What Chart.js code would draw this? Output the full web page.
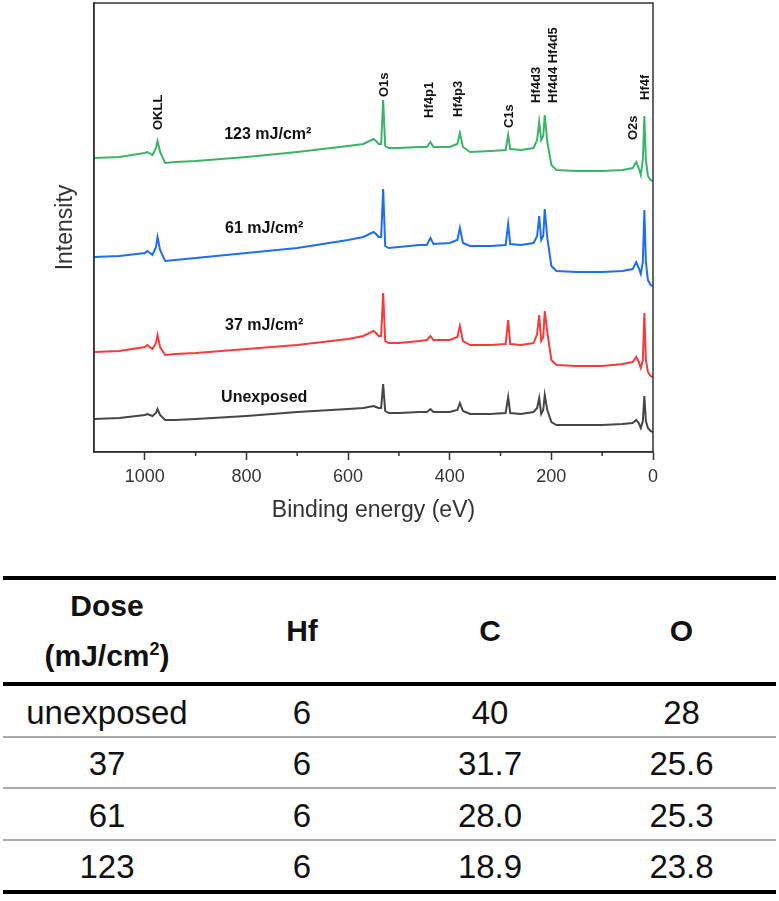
<!DOCTYPE html>
<html>
<head>
<meta charset="utf-8">
<script src="https://cdn.jsdelivr.net/npm/chart.js@4.4.1/dist/chart.umd.min.js"></script>
<style>
    body { margin: 0; background: #fff; width: 779px; height: 901px; position: relative; overflow: hidden; }
    #chartBox { position: absolute; left: 0; top: 0; width: 779px; height: 540px; }
    table { position: absolute; left: 3px; top: 576px; width: 773px; border-collapse: collapse; font-family: "Liberation Sans", Arial, sans-serif; color: #111; table-layout: fixed; }
    th { font-weight: bold; font-size: 30px; height: 102px; line-height: 50px; padding: 0; border-top: 4px solid #000; border-bottom: 4px solid #000; text-align: center; }
    td { font-size: 33px; height: 45.5px; padding: 4px 0 0 0; text-align: center; border-bottom: 2px solid #aaa; }
    tr:last-child td { border-bottom: 4px solid #000; }
    sup { font-size: 60%; line-height: 0; }
</style>
</head>
<body>
<div id="chartBox"><canvas id="chart1" width="779" height="540"></canvas></div>
<table id="table1">
    <colgroup><col style="width:208px"><col style="width:182px"><col style="width:194px"><col style="width:189px"></colgroup>
    <thead><tr><th>Dose<br>(mJ/cm<sup>2</sup>)</th><th>Hf</th><th>C</th><th>O</th></tr></thead>
    <tbody></tbody>
</table>
<script>
// binding energy grid (eV), shared by all spectra
const energies = [1100, 1050, 1000, 995, 985, 978, 975, 970, 960, 940, 900, 800, 700, 600, 570, 550, 545, 540, 535, 531, 527, 520, 500, 460, 445, 438, 432, 400, 385, 380, 374, 360, 320, 290, 285, 281, 260, 235, 228, 224, 220, 216, 213, 208, 200, 190, 150, 100, 60, 40, 33, 28, 24, 20, 17, 14, 10, 5, 0];

// intensity (a.u., stacked offsets as in the figure)
const dose123 = [294, 295, 299, 300, 297, 304, 311, 300, 289, 290, 291, 295, 300, 306, 308, 313, 311, 308, 308, 352, 306, 304, 304, 305, 305, 310, 305, 305, 308, 319, 305, 300, 301, 302, 317, 303, 302, 304, 312, 330, 312, 316, 337, 310, 287, 282, 281, 281, 282, 284, 290, 284, 277, 292, 336, 292, 276, 272, 271];
const dose61 = [195, 196, 199, 201, 197, 205, 215, 202, 191, 192, 194, 199, 204, 212, 215, 220, 218, 215, 215, 263, 206, 204, 205, 207, 207, 214, 208, 209, 212, 224, 209, 206, 206, 207, 228, 208, 207, 209, 216, 236, 212, 216, 243, 214, 186, 181, 180, 180, 181, 183, 190, 184, 178, 190, 242, 190, 172, 167, 166];
const dose37 = [100, 101, 105, 107, 103, 109, 117, 105, 97, 98, 99, 103, 107, 113, 116, 121, 119, 116, 116, 159, 111, 109, 109, 111, 112, 116, 112, 112, 115, 126, 111, 107, 107, 108, 132, 108, 107, 109, 118, 137, 111, 115, 141, 120, 92, 87, 86, 86, 88, 90, 95, 90, 84, 92, 139, 92, 80, 76, 75];
const unexposed = [33, 34, 37, 38, 36, 39, 43, 37, 32, 32, 33, 36, 40, 43, 44, 46, 45, 44, 44, 68, 41, 39, 39, 40, 40, 43, 40, 40, 42, 49, 41, 38, 38, 39, 55, 39, 38, 40, 44, 54, 38, 42, 57, 42, 30, 27, 27, 27, 28, 29, 32, 29, 24, 31, 56, 31, 24, 21, 20];

const seriesNames = ['123 mJ/cm²', '61 mJ/cm²', '37 mJ/cm²', 'Unexposed'];
const seriesColors = ['#3cb468', '#1e6ef0', '#f43c3c', '#464646'];
const seriesLabelEnergy = [758, 765, 765, 765];
const seriesLabelHeight = [317, 223, 126, 54];

const peakNames = ['OKLL', 'O1s', 'Hf4p1', 'Hf4p3', 'C1s', 'Hf4d3', 'Hf4d4 Hf4d5', 'O2s', 'Hf4f'];
const peakEnergies = [974, 529, 439, 382, 283, 230, 195, 39, 14];
const peakLabelHeights = [322, 355, 334, 335, 324, 349, 349, 312, 352];

const xTicks = [0, 200, 400, 600, 800, 1000];
const xMinorTicks = [100, 300, 500, 700, 900];

// table values
const tableDoses = ['unexposed', '37', '61', '123'];
const tableHf = ['6', '6', '6', '6'];
const tableC = ['40', '31.7', '28.0', '18.9'];
const tableO = ['28', '25.6', '25.3', '23.8'];

const fontFamily = '"Liberation Sans", Arial, sans-serif';

const spectra = [dose123, dose61, dose37, unexposed];

const data = {
    datasets: spectra.map((values, i) => ({
        label: seriesNames[i],
        data: energies.map((e, j) => ({ x: e, y: values[j] })),
        borderColor: seriesColors[i],
        backgroundColor: seriesColors[i],
        borderWidth: 2,
        pointRadius: 0,
        tension: 0
    }))
};

const textMarks = {
    id: 'textMarks',
    afterDatasetsDraw(chart) {
        const { ctx, chartArea, scales: { x, y } } = chart;
        ctx.save();

        // closed frame and minor ticks
        ctx.strokeStyle = '#333';
        ctx.lineWidth = 1.5;
        ctx.strokeRect(chartArea.left, chartArea.top, chartArea.right - chartArea.left, chartArea.bottom - chartArea.top);
        xMinorTicks.forEach((v) => {
            const px = x.getPixelForValue(v);
            ctx.beginPath();
            ctx.moveTo(px, chartArea.bottom);
            ctx.lineTo(px, chartArea.bottom + 4);
            ctx.stroke();
        });

        // peak names
        ctx.fillStyle = '#111';
        ctx.font = 'bold 13px ' + fontFamily;
        ctx.textAlign = 'left';
        ctx.textBaseline = 'middle';
        peakNames.forEach((name, i) => {
            ctx.save();
            ctx.translate(x.getPixelForValue(peakEnergies[i]), y.getPixelForValue(peakLabelHeights[i]));
            ctx.rotate(-Math.PI / 2);
            ctx.fillText(name, 0, 0);
            ctx.restore();
        });

        // dose labels
        ctx.font = 'bold 16px ' + fontFamily;
        ctx.textAlign = 'center';
        seriesNames.forEach((name, i) => {
            ctx.fillText(name, x.getPixelForValue(seriesLabelEnergy[i]), y.getPixelForValue(seriesLabelHeight[i]));
        });

        ctx.restore();
    }
};

const config = {
    type: 'line',
    data: data,
    options: {
        responsive: false,
        animation: false,
        layout: { padding: { top: 3, right: 126, left: 0, bottom: 0 } },
        plugins: {
            legend: { display: false },
            tooltip: { enabled: false }
        },
        scales: {
            x: {
                type: 'linear',
                min: 0,
                max: 1100,
                reverse: true,
                afterFit: (s) => { s.height = 88; },
                afterBuildTicks: (s) => { s.ticks = xTicks.map((v) => ({ value: v })); },
                ticks: {
                    font: { size: 18, family: fontFamily },
                    color: '#333',
                    padding: 6,
                    callback: (value) => String(value)
                },
                grid: { drawOnChartArea: false, tickLength: 8, tickWidth: 1.5, tickColor: '#333' },
                border: { color: '#333', width: 1.5 },
                title: {
                    display: true,
                    text: 'Binding energy (eV)',
                    font: { size: 23, family: fontFamily },
                    color: '#333',
                    padding: { top: 0, bottom: 16 }
                }
            },
            y: {
                min: 0,
                max: 449,
                afterFit: (s) => { s.width = 94; },
                ticks: { display: false },
                grid: { display: false },
                border: { color: '#333', width: 1.5 },
                title: {
                    display: true,
                    text: 'Intensity',
                    font: { size: 23, family: fontFamily },
                    color: '#333',
                    padding: { top: 52, bottom: 0 }
                }
            }
        }
    },
    plugins: [textMarks]
};

const chart1 = new Chart(document.getElementById('chart1'), config);

// table body
const tbody = document.querySelector('#table1 tbody');
tableDoses.forEach((dose, i) => {
    const tr = document.createElement('tr');
    [dose, tableHf[i], tableC[i], tableO[i]].forEach((v) => {
        const td = document.createElement('td');
        td.textContent = v;
        tr.appendChild(td);
    });
    tbody.appendChild(tr);
});
</script>
</body>
</html>
